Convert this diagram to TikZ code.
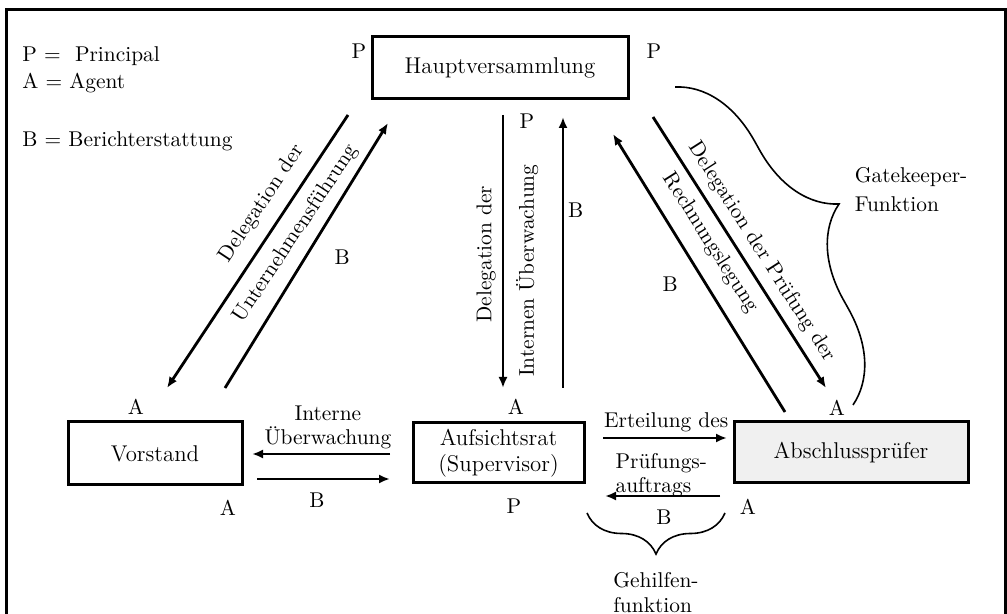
\documentclass[tikz,border=0pt]{standalone}
\usetikzlibrary{arrows.meta,decorations.pathreplacing}

\tikzset{
  box/.style={draw, line width=1.5pt, inner sep=0pt, outer sep=0pt, align=center,
    font=\fontsize{11.4}{13.2}\selectfont},
  lbl/.style={inner sep=1pt, font=\fontsize{10.7}{12.2}\selectfont},
  pfeil/.style={-{Latex[length=5.5pt,width=4.5pt]}, line width=1.4pt},
  klammer/.style={decorate, line width=0.8pt},
}

\begin{document}
\begin{tikzpicture}[x=0.5pt,y=-0.5pt]
\useasboundingbox (0,0) rectangle (1007,614);
% Rahmen
\draw[line width=1.5pt] (6.5,620) -- (6.5,9.5) -- (1005,9.5) -- (1005,620);

% Legende
\node[lbl, inner sep=0pt, anchor=base west] (legP) at (22,62) {P =\ \ Principal};
\node[lbl, inner sep=0pt, anchor=base west] (legA) at (22,89) {A = Agent};
\node[lbl, inner sep=0pt, anchor=base west] (legB) at (22,147) {B = Berichterstattung};

% Organe
\node[box, minimum width=128pt, minimum height=31pt] (hv) at (500,68) {Hauptversammlung};
\node[box, minimum width=87pt, minimum height=31.5pt] (vs) at (155,453.5) {Vorstand};
\node[box, minimum width=85.5pt, minimum height=30pt] (ar) at (498.5,453) {Aufsichtsrat\\(Supervisor)};
\node[box, fill=black!6, minimum width=117pt, minimum height=30.5pt] (ap) at (851,452.5) {Abschlussprüfer};

% Rollen
\node[lbl] (pHvL) at (359,51) {P};
\node[lbl] (pHvR) at (654,51) {P};
\node[lbl] (pHvU) at (527,121) {P};
\node[lbl] (aVsO) at (136,407) {A};
\node[lbl] (aVsU) at (228,508) {A};
\node[lbl] (aArO) at (516,407) {A};
\node[lbl] (pArU) at (514,506) {P};
\node[lbl] (aApO) at (837,408) {A};
\node[lbl] (aApU) at (748,507) {A};

% Hauptversammlung -- Vorstand
\draw[pfeil] ([shift={(-24,16)}]hv.south west) -- ([shift={(12,-34)}]vs.north)
  node[lbl, pos=.37, sloped, above=4.8pt] (tDelVs) {Delegation der}
  node[lbl, pos=.39, sloped, below=4.5pt] (tUnt) {Unternehmensführung};
\draw[pfeil] ([shift={(70,-34)}]vs.north) -- ([shift={(16,24)}]hv.south west)
  node[lbl, pos=.494, right=12.8pt] (bVs) {B};

% Hauptversammlung -- Aufsichtsrat
\draw[pfeil] ([shift={(3,16)}]hv.south) -- ([shift={(4.5,-35)}]ar.north)
  node[lbl, pos=.51, rotate=90, above=1.9pt] (tDelAr) {Delegation der}
  node[lbl, pos=.57, rotate=90, below=4.9pt] (tIntUe) {Internen Überwachung};
\draw[pfeil] ([shift={(64.5,-35)}]ar.north) -- ([shift={(63,18)}]hv.south)
  node[lbl, pos=.657, right=0.8pt] (bAr) {B};

% Hauptversammlung -- Abschlusspruefer
\draw[pfeil] ([shift={(25,18)}]hv.south east) -- ([shift={(-25,-34)}]ap.north)
  node[lbl, pos=.536, sloped, above=2.85pt] (tDelAp) {Delegation der Prüfung der}
  node[lbl, pos=.426, sloped, below=3.15pt] (tRech) {Rechnungslegung};
\draw[pfeil] ([shift={(-66,-10)}]ap.north) -- ([shift={(-15,35)}]hv.south east)
  node[lbl, pos=.46, left=12.3pt] (bAp) {B};

% Aufsichtsrat -- Vorstand
\draw[pfeil] ([shift={(-23,1)}]ar.west) -- ([shift={(10,0.5)}]vs.east)
  node[lbl, pos=.45, above=0.75pt, align=center] (tIntern) {Interne\\Überwachung};
\draw[pfeil] ([shift={(15,25.5)}]vs.east) -- ([shift={(-23,26)}]ar.west)
  node[lbl, pos=.45, below=5.3pt] (bVsAr) {B};

% Aufsichtsrat -- Abschlusspruefer
\draw[pfeil] ([shift={(19,-15)}]ar.east) -- ([shift={(-7,-14.5)}]ap.west)
  node[lbl, pos=.51, above=1.1pt] (tErt) {Erteilung des}
  node[lbl, pos=.47, below=5.85pt, align=left] (tAuft) {Prüfungs-\\auftrags};
\draw[pfeil] ([shift={(-14,43.5)}]ap.west) -- ([shift={(21,43)}]ar.east)
  node[lbl, pos=.487, below=5.3pt] (bApAr) {B};

% Klammern
\draw[klammer, decoration={brace, amplitude=43pt}] (675,87) -- (853,405)
  node[lbl, midway, anchor=west, shift={(88,-56)}, align=left,
       font=\fontsize{10.7}{14.5}\selectfont] (tGate) {Gatekeeper-\\Funktion};
\draw[klammer, decoration={brace, amplitude=20.5pt}] (725,513) -- (587,513)
  node[lbl, midway, below=28.5pt, align=left] (tGeh) {Gehilfen-\\funktion};
\end{tikzpicture}
\end{document}
